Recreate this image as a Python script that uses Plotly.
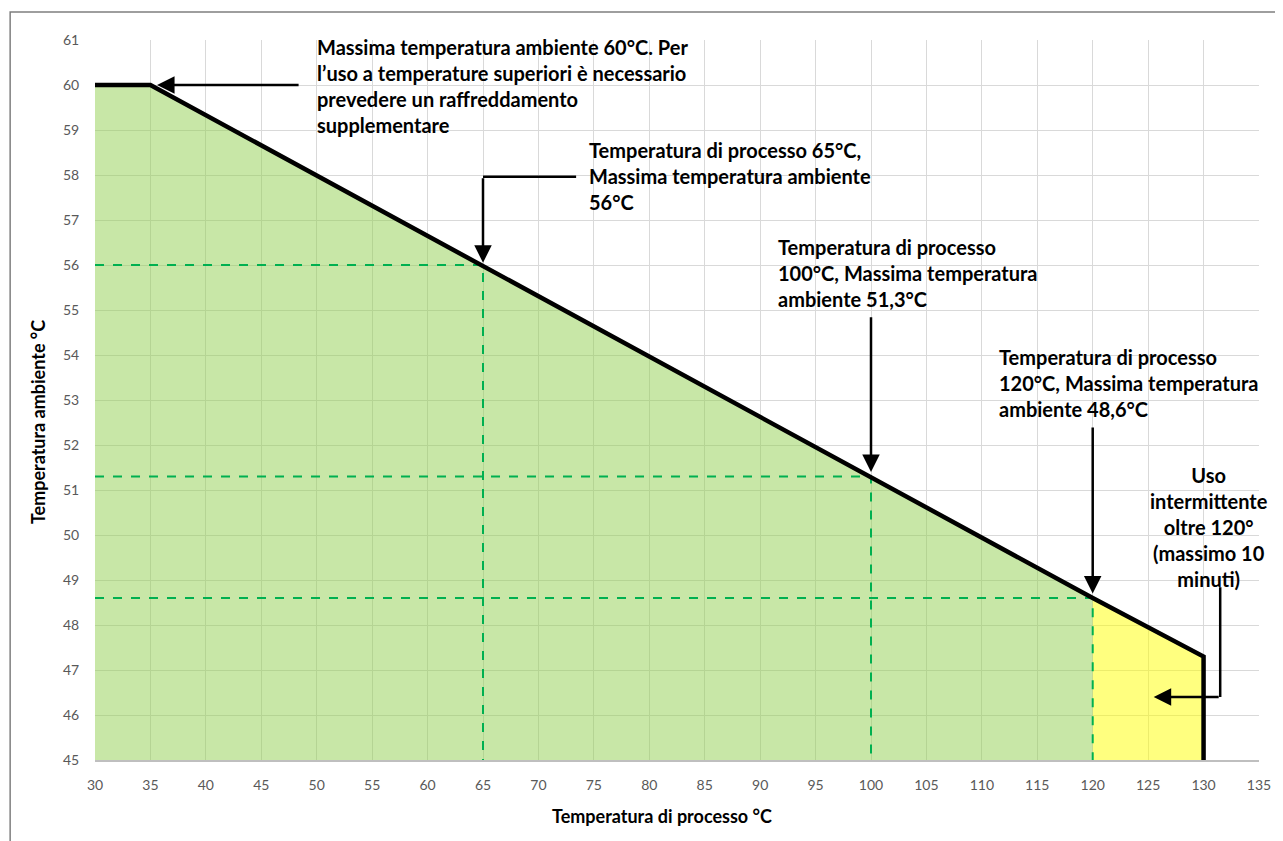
import plotly.graph_objects as go

# ---- data ----
limit_x = [30, 35, 120, 130, 130]
limit_y = [60, 60, 48.6, 47.3, 45]
safe_x = [30, 35, 65, 100, 120]
safe_y = [60, 60, 56, 51.3, 48.6]
intermittent_x = [120, 130]
intermittent_y = [48.6, 47.3]
ref_x = [65, 100, 120]
ref_y = [56, 51.3, 48.6]
x_ticks = list(range(30, 136, 5))
y_ticks = list(range(45, 62, 1))

FONT = "Lato"
TXT = dict(family=FONT, size=20, color="#000000", weight="bold")

# page layout (page pixels; the html body adds an 8px offset)
OFF = 8
PL, PR, PT, PB = 95, 1261, 40, 760
PW, PH = PR - PL, PB - PT


def px(p):
    return (p - PL) / PW


def py(p):
    return (PB - p) / PH


fig = go.Figure()

fig.add_trace(go.Scatter(x=safe_x, y=safe_y, fill="tozeroy", mode="none",
                         fillcolor="rgba(146,208,80,0.5)", hoverinfo="skip"))
fig.add_trace(go.Scatter(x=intermittent_x, y=intermittent_y, fill="tozeroy", mode="none",
                         fillcolor="rgba(255,255,0,0.5)", hoverinfo="skip"))

for rx, ry in zip(ref_x, ref_y):
    fig.add_trace(go.Scatter(x=[30, rx, rx], y=[ry, ry, 45], mode="lines",
                             line=dict(color="#00b050", width=2, dash="dash"),
                             hoverinfo="skip"))

fig.add_trace(go.Scatter(x=limit_x, y=limit_y, mode="lines",
                         line=dict(color="#000000", width=4.5), hoverinfo="skip"))

arrow = dict(showarrow=True, arrowhead=2, arrowsize=1.4, arrowwidth=2.5,
             arrowcolor="#000000", axref="x", ayref="y", text="")

annotations = [
    # arrows
    dict(x=35.6, y=60, ax=48.5, ay=60, **arrow),
    dict(x=65, y=56.05, ax=65, ay=57.96, **arrow),
    dict(x=100, y=51.4, ax=100, ay=54.87, **arrow),
    dict(x=120, y=48.7, ax=120, ay=52.42, **arrow),
    dict(x=125.5, y=46.4, ax=131.5, ay=46.4, **arrow),
    # texts
    dict(xref="paper", yref="paper", x=px(315), y=py(33), xanchor="left", yanchor="top",
         showarrow=False, align="left",
         text="Massima temperatura ambiente 60°C. Per<br>l’uso a temperature superiori è necessario<br>prevedere un raffreddamento<br>supplementare",
         font=TXT),
    dict(xref="paper", yref="paper", x=px(588), y=py(136), xanchor="left", yanchor="top",
         showarrow=False, align="left",
         text="Temperatura di processo 65°C,<br>Massima temperatura ambiente<br>56°C",
         font=TXT),
    dict(xref="paper", yref="paper", x=px(777), y=py(233), xanchor="left", yanchor="top",
         showarrow=False, align="left",
         text="Temperatura di processo<br>100°C, Massima temperatura<br>ambiente 51,3°C",
         font=TXT),
    dict(xref="paper", yref="paper", x=px(999), y=py(343), xanchor="left", yanchor="top",
         showarrow=False, align="left",
         text="Temperatura di processo<br>120°C, Massima temperatura<br>ambiente 48,6°C",
         font=TXT),
    dict(xref="paper", yref="paper", x=px(1211), y=py(461), xanchor="center", yanchor="top",
         showarrow=False, align="center",
         text="Uso<br>intermittente<br>oltre 120°<br>(massimo 10<br>minuti)",
         font=TXT),
    # axis titles
    dict(xref="paper", yref="paper", x=px(663), y=py(816), xanchor="center", yanchor="middle",
         showarrow=False, text="Temperatura di processo °C",
         font=dict(family=FONT, size=18, color="#000000", weight="bold")),
    dict(xref="paper", yref="paper", x=px(38), y=py(422), xanchor="center", yanchor="middle",
         showarrow=False, text="Temperatura ambiente °C", textangle=-90,
         font=dict(family=FONT, size=18, color="#000000", weight="bold")),
]

shapes = [
    # elbow connectors
    dict(type="line", xref="x", yref="y", x0=73.4, y0=57.96, x1=65, y1=57.96,
         line=dict(color="#000000", width=2.5)),
    dict(type="line", xref="x", yref="y", x0=131.5, y0=48.84, x1=131.5, y1=46.4,
         line=dict(color="#000000", width=2.5)),
    # outer chart frame
    dict(type="rect", xref="paper", yref="paper", x0=px(10), x1=1.2,
         y0=-0.2, y1=py(12), line=dict(color="#7f7f7f", width=1.5),
         layer="below"),
]

fig.update_layout(
    width=1283 - OFF, height=841 - OFF,
    margin=dict(l=PL - OFF, r=(1283 - OFF) - (PR - OFF), t=PT - OFF, b=(841 - OFF) - (PB - OFF)),
    paper_bgcolor="white", plot_bgcolor="white",
    showlegend=False,
    annotations=annotations,
    shapes=shapes,
    font=dict(family=FONT, color="#595959", size=14),
)
fig.update_xaxes(range=[30, 135], tickvals=x_ticks, showgrid=True, gridcolor="#d9d9d9",
                 gridwidth=1, showline=True, linecolor="#bfbfbf", linewidth=1.5,
                 zeroline=False, ticks="outside", ticklen=11, tickcolor="rgba(0,0,0,0)",
                 tickfont=dict(family=FONT, size=14, color="#595959"), fixedrange=True)
fig.update_yaxes(range=[45, 61], tickvals=y_ticks, showgrid=True, gridcolor="#d9d9d9",
                 gridwidth=1, showline=False, zeroline=False, ticks="outside", ticklen=12,
                 tickcolor="rgba(0,0,0,0)",
                 tickfont=dict(family=FONT, size=14, color="#595959"), fixedrange=True)

fig.write_html("out.html")
